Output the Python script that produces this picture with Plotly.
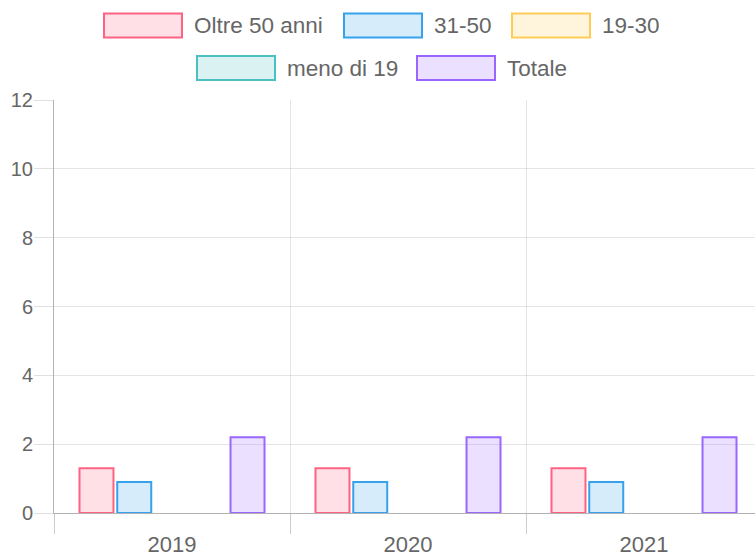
import plotly.graph_objects as go

years = ["2019", "2020", "2021"]
series_names = ["Oltre 50 anni", "31-50", "19-30", "meno di 19", "Totale"]
oltre_50 = [1.3, 1.3, 1.3]
eta_31_50 = [0.9, 0.9, 0.9]
eta_19_30 = [0, 0, 0]
meno_19 = [0, 0, 0]
totale = [2.2, 2.2, 2.2]
y_ticks = [0, 2, 4, 6, 8, 10, 12]

border_colors = ["rgb(255,99,132)", "rgb(54,162,235)", "rgb(255,205,86)",
                 "rgb(75,192,192)", "rgb(153,102,255)"]
fill_colors = ["rgba(255,99,132,0.2)", "rgba(54,162,235,0.2)", "rgba(255,205,86,0.2)",
               "rgba(75,192,192,0.2)", "rgba(153,102,255,0.2)"]

values = [oltre_50, eta_31_50, eta_19_30, meno_19, totale]

W, H = 755, 558
L, R, T, B = 54, 0, 100, 45
PW, PH = W - L - R, H - T - B
CAT_W = 236

fig = go.Figure()
for name, vals, bc, fc in zip(series_names, values, border_colors, fill_colors):
    fig.add_trace(go.Bar(
        x=years, y=vals, name=name,
        marker=dict(color=fc, line=dict(color=bc, width=[2 if v else 0 for v in vals])),
        showlegend=False,
    ))

FONT = "Liberation Sans, Arial, Helvetica, sans-serif"
TXT = "#666666"

def px_x(px):
    return (px - L) / PW

def px_y(py):
    return (H - B - py) / PH

# custom legend (Chart.js style wide boxes)
legend_items = [
    (0, 104, 25.5), (1, 344, 25.5), (2, 512, 25.5),
    (3, 197, 68), (4, 417, 68),
]
shapes = []
annotations = []
BW, BH = 78, 24
for idx, x0, cy in legend_items:
    shapes.append(dict(
        type="rect", xref="paper", yref="paper",
        x0=px_x(x0), x1=px_x(x0 + BW), y0=px_y(cy + BH / 2), y1=px_y(cy - BH / 2),
        line=dict(color=border_colors[idx], width=2), fillcolor=fill_colors[idx],
    ))
    annotations.append(dict(
        xref="paper", yref="paper", x=px_x(x0 + BW + 10), y=px_y(cy),
        xanchor="left", yanchor="middle", showarrow=False,
        text=series_names[idx], font=dict(family=FONT, size=22.5, color=TXT),
    ))

fig.update_layout(
    width=W, height=H,
    margin=dict(l=L, r=R, t=T, b=B, pad=0),
    paper_bgcolor="white", plot_bgcolor="white",
    barmode="group", bargap=0.2, bargroupgap=0.1,
    font=dict(family=FONT, size=21, color=TXT),
    shapes=shapes, annotations=annotations,
    xaxis=dict(
        type="category", range=[-0.5, -0.5 + PW / CAT_W],
        tickson="boundaries", ticks="outside", ticklen=20, tickwidth=1,
        tickcolor="rgba(0,0,0,0.2)",
        showgrid=True, gridcolor="rgba(0,0,0,0.1)", gridwidth=1,
        showline=True, linecolor="rgba(0,0,0,0.3)", linewidth=1,
        tickfont=dict(size=22, color=TXT), ticklabelstandoff=12, fixedrange=True,
    ),
    yaxis=dict(
        range=[0, 12], tickvals=y_ticks, ticks="outside", ticklen=19, tickwidth=1,
        tickcolor="rgba(0,0,0,0.12)",
        showgrid=True, gridcolor="rgba(0,0,0,0.1)", gridwidth=1,
        zeroline=False,
        showline=True, linecolor="rgba(0,0,0,0.3)", linewidth=1,
        tickfont=dict(size=20, color=TXT), ticklabelstandoff=-3, fixedrange=True,
    ),
)

fig.write_html(
    "out.html",
    config={"displayModeBar": False},
    post_script="document.body.style.margin='0';document.body.style.padding='0';",
)
